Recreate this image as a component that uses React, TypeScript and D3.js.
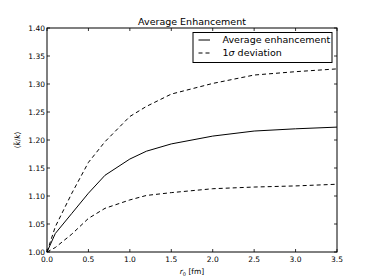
import React from 'react';
import * as d3 from 'd3';

// r0 values in fm
const r0 = [0, 0.1, 0.3, 0.5, 0.7, 1.0, 1.2, 1.5, 2.0, 2.5, 3.0, 3.5];
const average = [1.0, 1.033, 1.069, 1.105, 1.137, 1.166, 1.180, 1.193, 1.207, 1.216, 1.220, 1.223];
const upper = [1.0, 1.045, 1.105, 1.160, 1.197, 1.242, 1.260, 1.282, 1.301, 1.316, 1.322, 1.327];
const lower = [1.0, 1.008, 1.032, 1.060, 1.078, 1.093, 1.101, 1.106, 1.113, 1.116, 1.118, 1.121];

const xTicks = [0, 0.5, 1.0, 1.5, 2.0, 2.5, 3.0, 3.5];
const yTicks = [1.0, 1.05, 1.1, 1.15, 1.2, 1.25, 1.3, 1.35, 1.4];

const W = 374;
const H = 280;
const margin = { top: 28, right: 37, bottom: 28, left: 47 };
const font = 'DejaVu Sans, sans-serif';

export default function App() {
  const x = d3.scaleLinear().domain([0, 3.5]).range([margin.left, W - margin.right]);
  const y = d3.scaleLinear().domain([1.0, 1.4]).range([H - margin.bottom, margin.top]);

  const line = d3.line<number>()
    .x((_, i) => x(r0[i]))
    .y(d => y(d));

  const x0 = x(0), x1 = x(3.5), y0 = y(1.0), y1 = y(1.4);
  const tick = 3;

  return (
    <svg width={W} height={H} style={{ position: 'absolute', left: 0, top: 0, background: '#fff' }}
      fontFamily={font}>
      <rect x={0} y={0} width={W} height={H} fill="#fff" />

      {/* curves */}
      <path d={line(average) || ''} fill="none" stroke="#000" strokeWidth={1} />
      <path d={line(upper) || ''} fill="none" stroke="#000" strokeWidth={1} strokeDasharray="4,3" />
      <path d={line(lower) || ''} fill="none" stroke="#000" strokeWidth={1} strokeDasharray="4,3" />

      {/* ticks, inside on all four sides */}
      {xTicks.map(t => (
        <g key={'x' + t}>
          <line x1={x(t)} x2={x(t)} y1={y0} y2={y0 - tick} stroke="#000" strokeWidth={0.8} />
          <line x1={x(t)} x2={x(t)} y1={y1} y2={y1 + tick} stroke="#000" strokeWidth={0.8} />
          <text x={x(t)} y={y0 + 10} fontSize={7.5} textAnchor="middle" fill="#000">{t.toFixed(1)}</text>
        </g>
      ))}
      {yTicks.map(t => (
        <g key={'y' + t}>
          <line x1={x0} x2={x0 + tick} y1={y(t)} y2={y(t)} stroke="#000" strokeWidth={0.8} />
          <line x1={x1} x2={x1 - tick} y1={y(t)} y2={y(t)} stroke="#000" strokeWidth={0.8} />
          <text x={x0 - 2} y={y(t) + 2.7} fontSize={7.5} textAnchor="end" fill="#000">{t.toFixed(2)}</text>
        </g>
      ))}

      {/* frame */}
      <rect x={x0} y={y1} width={x1 - x0} height={y0 - y1} fill="none" stroke="#000" strokeWidth={1} />

      {/* title */}
      <text x={(x0 + x1) / 2} y={y1 - 3} fontSize={9.5} textAnchor="middle" fill="#000">Average Enhancement</text>

      {/* axis labels */}
      <text x={(x0 + x1) / 2} y={H - 6} fontSize={7.5} textAnchor="middle" fill="#000">
        <tspan fontStyle="italic">r</tspan><tspan fontSize={5} dy={1.5}>0</tspan><tspan dy={-1.5}> [fm]</tspan>
      </text>
      <text transform={`translate(20,${(y0 + y1) / 2}) rotate(-90)`} fontSize={7.5} textAnchor="middle" fill="#000">
        ⟨<tspan fontStyle="italic">k̃</tspan>/<tspan fontStyle="italic">k</tspan>⟩
      </text>

      {/* legend */}
      <g>
        <rect x={193} y={32.5} width={139} height={30} fill="#fff" stroke="#000" strokeWidth={1} />
        <line x1={198.5} x2={210} y1={40} y2={40} stroke="#000" strokeWidth={1} />
        <text x={222.5} y={43.3} fontSize={9.5} fill="#000">Average enhancement</text>
        <line x1={198.5} x2={210} y1={53} y2={53} stroke="#000" strokeWidth={1} strokeDasharray="4,3" />
        <text x={222.5} y={56.3} fontSize={9.5} fill="#000">1<tspan fontStyle="italic">σ</tspan> deviation</text>
      </g>
    </svg>
  );
}
